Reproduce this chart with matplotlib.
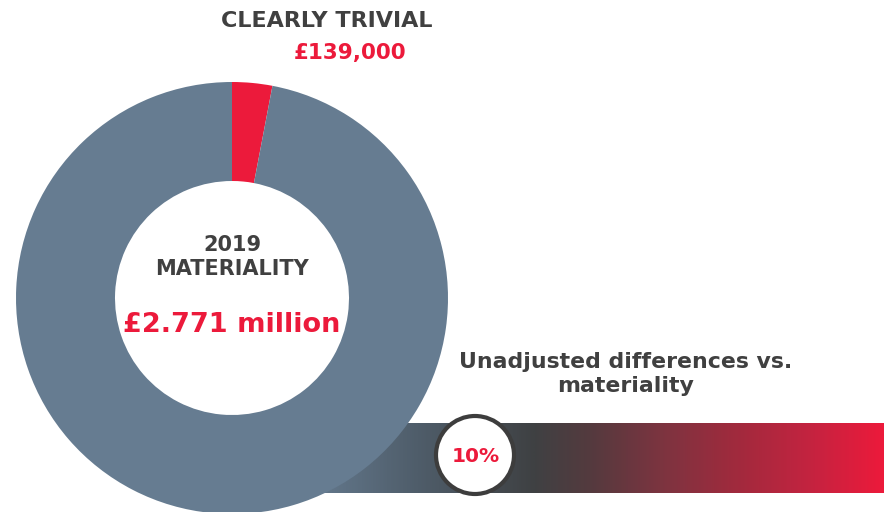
import numpy as np
import matplotlib.pyplot as plt
from matplotlib.colors import LinearSegmentedColormap
from matplotlib.patches import Circle

# slice shares as drawn in the reference (clearly trivial vs rest)
slice_labels = ["Clearly trivial", "Remaining materiality"]
slice_values = [3.0, 97.0]
slice_colors = ["#ec1a3b", "#667c91"]

center_title = "2019\nMATERIALITY"
center_value = "£2.771 million"
trivial_title = "CLEARLY TRIVIAL"
trivial_value = "£139,000"
bar_title = "Unadjusted differences vs.\nmateriality"
bar_value = "10%"

# gradient stops for the bar
grad_pos = [0.0, 0.2, 0.4, 0.5, 0.62, 0.75, 0.88, 1.0]
grad_cols = ["#667c91", "#4f5d6a", "#3f4143", "#553a3e", "#7c3440",
             "#a12a3d", "#c52340", "#ec1a3b"]

DARK = "#404040"
RED = "#ec1a3b"
H = 512

fig = plt.figure(figsize=(8.84, 5.12), dpi=100)
ax = fig.add_axes([0, 0, 1, 1])

# gradient bar (sits behind the donut)
cmap = LinearSegmentedColormap.from_list("bar", list(zip(grad_pos, grad_cols)))
grad = np.linspace(0, 1, 600).reshape(1, -1)
ax.imshow(grad, cmap=cmap, aspect="auto", extent=[300, 884, H - 493, H - 423],
          zorder=1, interpolation="bilinear")

ax.pie(slice_values, colors=slice_colors, startangle=90, counterclock=False,
       center=(232, H - 298), radius=216,
       wedgeprops=dict(width=99, linewidth=0), frame=True)
for w in ax.patches:
    w.set_zorder(2)

ax.add_patch(Circle((475, H - 455), 39, facecolor="white", edgecolor="#3d3d3d",
                    linewidth=3, zorder=3))
ax.text(476, H - 456, bar_value, color=RED, fontsize=14.5, fontweight="bold",
        ha="center", va="center", zorder=4)

ax.text(232, H - 257, center_title, color=DARK, fontsize=15, fontweight="bold",
        ha="center", va="center", linespacing=1.3, zorder=4)
ax.text(232, H - 325, center_value, color=RED, fontsize=19.5, fontweight="bold",
        ha="center", va="center", zorder=4)

ax.text(327, H - 21, trivial_title, color=DARK, fontsize=16, fontweight="bold",
        ha="center", va="center")
ax.text(350, H - 53, trivial_value, color=RED, fontsize=15.5, fontweight="bold",
        ha="center", va="center")

ax.text(626, H - 374, bar_title, color=DARK, fontsize=15.8, fontweight="bold",
        ha="center", va="center", linespacing=1.3)

ax.set_xlim(0, 884)
ax.set_ylim(0, H)
ax.set_aspect("auto")
ax.axis("off")

fig.savefig("out.png", dpi=100)
